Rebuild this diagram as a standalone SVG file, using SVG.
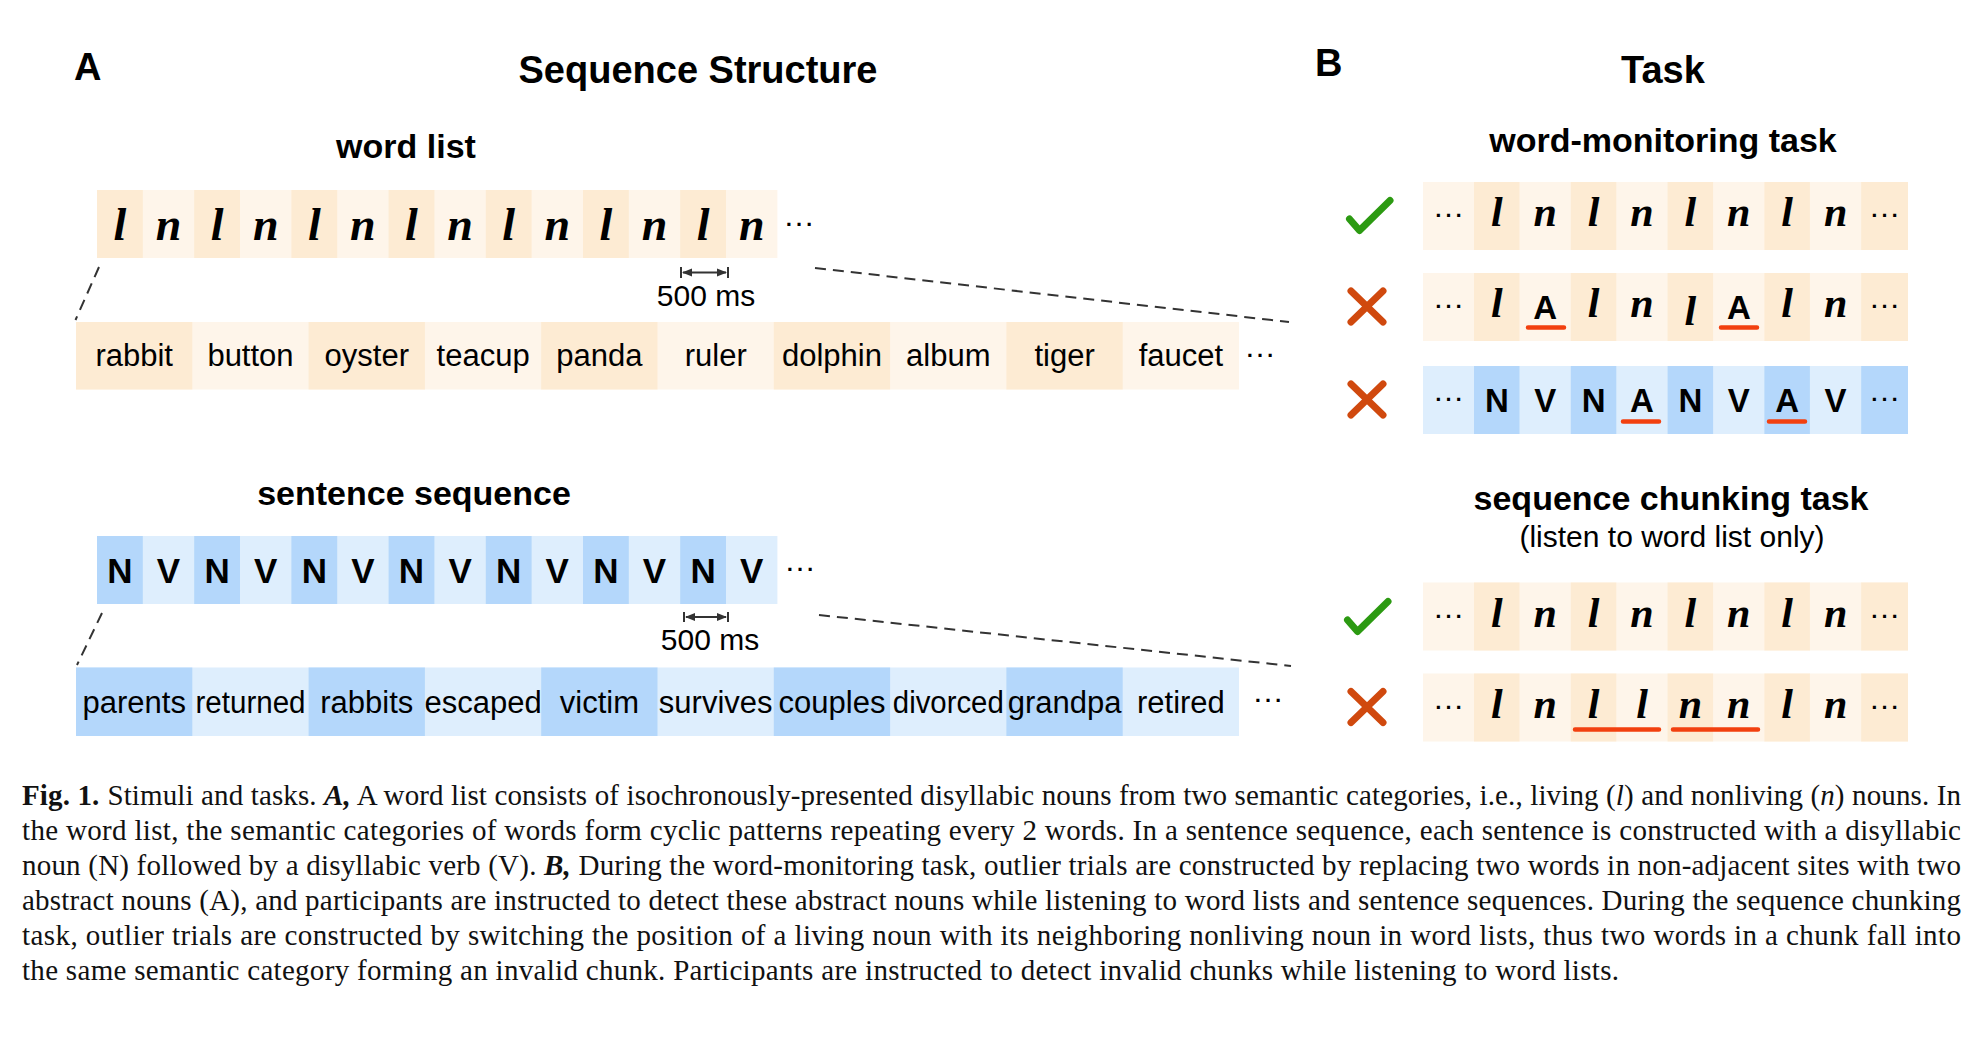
<svg xmlns="http://www.w3.org/2000/svg" width="1982" height="1041" viewBox="0 0 1982 1041">
<style>
.sans{font-family:"Liberation Sans",Arial,sans-serif;fill:#000}
.ttl{font-size:38px;font-weight:bold}
.sub{font-size:34px;font-weight:bold;text-anchor:middle}
.par{font-size:30px;text-anchor:middle}
.lt{font-family:"Liberation Serif","Times New Roman",serif;font-style:italic;font-weight:bold;font-size:46px;text-anchor:middle}
.lt2{font-family:"Liberation Serif","Times New Roman",serif;font-style:italic;font-weight:bold;font-size:42px;text-anchor:middle}
.nv{font-family:"Liberation Sans",Arial,sans-serif;font-weight:bold;font-size:35px;text-anchor:middle}
.nv2{font-family:"Liberation Sans",Arial,sans-serif;font-weight:bold;font-size:33px;text-anchor:middle}
.wd{font-family:"Liberation Sans",Arial,sans-serif;font-size:31px;text-anchor:middle}
.ms{font-family:"Liberation Sans",Arial,sans-serif;font-size:30px;text-anchor:middle}
.ell{font-family:"Liberation Sans",Arial,sans-serif;font-size:32px;text-anchor:middle}
.cap{font-family:"Liberation Serif","Times New Roman",serif;font-size:29px;fill:#111}
.od{fill:#FDEBD3}.ol{fill:#FEF5EA}.bd{fill:#B4D7FB}.bl{fill:#DEEEFD}
.dash{stroke:#333;stroke-width:2;stroke-dasharray:11 7;fill:none}
.brk{stroke:#333;stroke-width:2;fill:none}
.ul{stroke:#F2400F;stroke-width:4.5;stroke-linecap:round}
.chk{stroke:#2C9A12;stroke-width:7;fill:none;stroke-linecap:round;stroke-linejoin:round}
.crs{stroke:#D0490E;stroke-width:7;stroke-linecap:round}
</style>
<defs>
<marker id="ah" viewBox="0 0 10 10" refX="9" refY="5" markerWidth="5" markerHeight="5" orient="auto-start-reverse"><path d="M0,1 L10,5 L0,9 z" fill="#333"/></marker>
</defs>
<rect width="1982" height="1041" fill="#fff"/>

<!-- Headings -->
<g id="headings" class="sans">
<text class="ttl" x="74" y="80" font-size="36">A</text>
<text class="ttl" x="698" y="83" text-anchor="middle">Sequence Structure</text>
<text class="ttl" x="1315" y="76" font-size="35">B</text>
<text class="ttl" x="1663" y="83" text-anchor="middle">Task</text>
<text class="sub" x="406" y="158">word list</text>
<text class="sub" x="414" y="505">sentence sequence</text>
<text class="sub" x="1663" y="152">word-monitoring task</text>
<text class="sub" x="1671" y="510">sequence chunking task</text>
<text class="par" x="1672" y="547">(listen to word list only)</text>
</g>

<!-- Word list: category bar -->
<g id="wordlist-bar">
<rect class="ol" x="97" y="190" width="680.4" height="68"/>
<rect class="od" x="97" y="190" width="45.8" height="68"/>
<rect class="od" x="194.2" y="190" width="45.8" height="68"/>
<rect class="od" x="291.4" y="190" width="45.8" height="68"/>
<rect class="od" x="388.6" y="190" width="45.8" height="68"/>
<rect class="od" x="485.8" y="190" width="45.8" height="68"/>
<rect class="od" x="583" y="190" width="45.8" height="68"/>
<rect class="od" x="680.2" y="190" width="45.8" height="68"/>
<text class="lt" x="119.9" y="240">l</text><text class="lt" x="168.5" y="240">n</text>
<text class="lt" x="217.1" y="240">l</text><text class="lt" x="265.7" y="240">n</text>
<text class="lt" x="314.3" y="240">l</text><text class="lt" x="362.9" y="240">n</text>
<text class="lt" x="411.5" y="240">l</text><text class="lt" x="460.1" y="240">n</text>
<text class="lt" x="508.7" y="240">l</text><text class="lt" x="557.3" y="240">n</text>
<text class="lt" x="605.9" y="240">l</text><text class="lt" x="654.5" y="240">n</text>
<text class="lt" x="703.1" y="240">l</text><text class="lt" x="751.7" y="240">n</text>
<text class="ell" x="799" y="226">…</text>
</g>

<g id="wordlist-scale">
<path class="brk" d="M681,267 V278 M728,267 V278"/>
<path class="brk" d="M683,272.5 H726" marker-start="url(#ah)" marker-end="url(#ah)"/>
<text class="ms" x="706" y="306">500 ms</text>
</g>

<!-- Word list: words -->
<g id="wordlist-words">
<rect class="ol" x="76" y="322" width="1163" height="67.5"/>
<rect class="od" x="76" y="322" width="116.3" height="67.5"/>
<rect class="od" x="308.6" y="322" width="116.3" height="67.5"/>
<rect class="od" x="541.2" y="322" width="116.3" height="67.5"/>
<rect class="od" x="773.8" y="322" width="116.3" height="67.5"/>
<rect class="od" x="1006.4" y="322" width="116.3" height="67.5"/>
<text class="wd" x="134.2" y="366">rabbit</text>
<text class="wd" x="250.5" y="366">button</text>
<text class="wd" x="366.8" y="366">oyster</text>
<text class="wd" x="483.1" y="366">teacup</text>
<text class="wd" x="599.4" y="366">panda</text>
<text class="wd" x="715.7" y="366">ruler</text>
<text class="wd" x="832" y="366">dolphin</text>
<text class="wd" x="948.3" y="366">album</text>
<text class="wd" x="1064.6" y="366">tiger</text>
<text class="wd" x="1180.9" y="366">faucet</text>
<text class="ell" x="1260" y="357">…</text>
</g>

<!-- Sentence sequence: category bar -->
<g id="sentence-bar">
<rect class="bl" x="97" y="536" width="680.4" height="68"/>
<rect class="bd" x="97" y="536" width="45.8" height="68"/>
<rect class="bd" x="194.2" y="536" width="45.8" height="68"/>
<rect class="bd" x="291.4" y="536" width="45.8" height="68"/>
<rect class="bd" x="388.6" y="536" width="45.8" height="68"/>
<rect class="bd" x="485.8" y="536" width="45.8" height="68"/>
<rect class="bd" x="583" y="536" width="45.8" height="68"/>
<rect class="bd" x="680.2" y="536" width="45.8" height="68"/>
<text class="nv" x="119.9" y="583">N</text><text class="nv" x="168.5" y="583">V</text>
<text class="nv" x="217.1" y="583">N</text><text class="nv" x="265.7" y="583">V</text>
<text class="nv" x="314.3" y="583">N</text><text class="nv" x="362.9" y="583">V</text>
<text class="nv" x="411.5" y="583">N</text><text class="nv" x="460.1" y="583">V</text>
<text class="nv" x="508.7" y="583">N</text><text class="nv" x="557.3" y="583">V</text>
<text class="nv" x="605.9" y="583">N</text><text class="nv" x="654.5" y="583">V</text>
<text class="nv" x="703.1" y="583">N</text><text class="nv" x="751.7" y="583">V</text>
<text class="ell" x="800" y="571">…</text>
</g>

<g id="sentence-scale">
<path class="brk" d="M684,612 V622 M728,612 V622"/>
<path class="brk" d="M686,617 H726" marker-start="url(#ah)" marker-end="url(#ah)"/>
<text class="ms" x="710" y="650">500 ms</text>
</g>

<!-- Sentence sequence: words -->
<g id="sentence-words">
<rect class="bl" x="76" y="667.5" width="1163" height="68.5"/>
<rect class="bd" x="76" y="667.5" width="116.3" height="68.5"/>
<rect class="bd" x="308.6" y="667.5" width="116.3" height="68.5"/>
<rect class="bd" x="541.2" y="667.5" width="116.3" height="68.5"/>
<rect class="bd" x="773.8" y="667.5" width="116.3" height="68.5"/>
<rect class="bd" x="1006.4" y="667.5" width="116.3" height="68.5"/>
<text class="wd" x="134.2" y="713">parents</text>
<text class="wd" x="250.5" y="713" textLength="110" lengthAdjust="spacingAndGlyphs">returned</text>
<text class="wd" x="366.8" y="713">rabbits</text>
<text class="wd" x="483.1" y="713">escaped</text>
<text class="wd" x="599.4" y="713">victim</text>
<text class="wd" x="715.7" y="713">survives</text>
<text class="wd" x="832" y="713">couples</text>
<text class="wd" x="948.3" y="713" textLength="111" lengthAdjust="spacingAndGlyphs">divorced</text>
<text class="wd" x="1064.6" y="713">grandpa</text>
<text class="wd" x="1180.9" y="713">retired</text>
<text class="ell" x="1268" y="702">…</text>
</g>

<!-- Connectors (zoom lines) -->
<g id="connectors">
<path class="dash" d="M99,267 L75.5,320"/>
<path class="dash" d="M815,268 L1289,322"/>
<path class="dash" d="M102,613 L77,665"/>
<path class="dash" d="M819,615 L1291,666"/>
</g>

<!-- Panel B: word-monitoring task -->
<g id="wm-row1">
<rect class="ol" x="1423" y="182" width="485" height="68"/>
<rect class="od" x="1474" y="182" width="45.5" height="68"/>
<rect class="od" x="1570.8" y="182" width="45.5" height="68"/>
<rect class="od" x="1667.6" y="182" width="45.5" height="68"/>
<rect class="od" x="1764.4" y="182" width="45.5" height="68"/>
<rect class="od" x="1861.2" y="182" width="46.8" height="68"/>
<text class="ell" x="1448.5" y="217">…</text>
<text class="lt2" x="1496.8" y="226">l</text><text class="lt2" x="1545.2" y="226">n</text>
<text class="lt2" x="1593.6" y="226">l</text><text class="lt2" x="1642" y="226">n</text>
<text class="lt2" x="1690.4" y="226">l</text><text class="lt2" x="1738.8" y="226">n</text>
<text class="lt2" x="1787.2" y="226">l</text><text class="lt2" x="1835.6" y="226">n</text>
<text class="ell" x="1884.6" y="217">…</text>
<path class="chk" d="M1349.5,219 L1359.5,230.5 L1390,200.5"/>
</g>

<g id="wm-row2">
<rect class="ol" x="1423" y="273" width="485" height="68"/>
<rect class="od" x="1474" y="273" width="45.5" height="68"/>
<rect class="od" x="1570.8" y="273" width="45.5" height="68"/>
<rect class="od" x="1667.6" y="273" width="45.5" height="68"/>
<rect class="od" x="1764.4" y="273" width="45.5" height="68"/>
<rect class="od" x="1861.2" y="273" width="46.8" height="68"/>
<text class="ell" x="1448.5" y="308">…</text>
<text class="lt2" x="1496.8" y="317">l</text><text class="nv2" x="1545.2" y="318.5">A</text>
<text class="lt2" x="1593.6" y="317">l</text><text class="lt2" x="1642" y="317">n</text>
<text class="lt2" x="1690.4" y="325">l</text><text class="nv2" x="1738.8" y="318.5">A</text>
<text class="lt2" x="1787.2" y="317">l</text><text class="lt2" x="1835.6" y="317">n</text>
<text class="ell" x="1884.6" y="308">…</text>
<path class="ul" d="M1528,327.5 H1564 M1721,327.5 H1757"/>
<path class="crs" d="M1351,291 L1383,322 M1383,291 L1351,322"/>
</g>

<g id="wm-row3">
<rect class="bl" x="1423" y="366" width="485" height="68"/>
<rect class="bd" x="1474" y="366" width="45.5" height="68"/>
<rect class="bd" x="1570.8" y="366" width="45.5" height="68"/>
<rect class="bd" x="1667.6" y="366" width="45.5" height="68"/>
<rect class="bd" x="1764.4" y="366" width="45.5" height="68"/>
<rect class="bd" x="1861.2" y="366" width="46.8" height="68"/>
<text class="ell" x="1448.5" y="401">…</text>
<text class="nv2" x="1496.8" y="411.5">N</text><text class="nv2" x="1545.2" y="411.5">V</text>
<text class="nv2" x="1593.6" y="411.5">N</text><text class="nv2" x="1642" y="411.5">A</text>
<text class="nv2" x="1690.4" y="411.5">N</text><text class="nv2" x="1738.8" y="411.5">V</text>
<text class="nv2" x="1787.2" y="411.5">A</text><text class="nv2" x="1835.6" y="411.5">V</text>
<text class="ell" x="1884.6" y="401">…</text>
<path class="ul" d="M1623,421.5 H1659 M1769,421.5 H1805"/>
<path class="crs" d="M1351,384 L1383,415 M1383,384 L1351,415"/>
</g>

<!-- Panel B: sequence chunking task -->
<g id="sc-row1">
<rect class="ol" x="1423" y="582.5" width="485" height="68"/>
<rect class="od" x="1474" y="582.5" width="45.5" height="68"/>
<rect class="od" x="1570.8" y="582.5" width="45.5" height="68"/>
<rect class="od" x="1667.6" y="582.5" width="45.5" height="68"/>
<rect class="od" x="1764.4" y="582.5" width="45.5" height="68"/>
<rect class="od" x="1861.2" y="582.5" width="46.8" height="68"/>
<text class="ell" x="1448.5" y="617.5">…</text>
<text class="lt2" x="1496.8" y="626.5">l</text><text class="lt2" x="1545.2" y="626.5">n</text>
<text class="lt2" x="1593.6" y="626.5">l</text><text class="lt2" x="1642" y="626.5">n</text>
<text class="lt2" x="1690.4" y="626.5">l</text><text class="lt2" x="1738.8" y="626.5">n</text>
<text class="lt2" x="1787.2" y="626.5">l</text><text class="lt2" x="1835.6" y="626.5">n</text>
<text class="ell" x="1884.6" y="617.5">…</text>
<path class="chk" d="M1347.5,620 L1357.5,631.5 L1388,601.5"/>
</g>

<g id="sc-row2">
<rect class="ol" x="1423" y="673.5" width="485" height="68"/>
<rect class="od" x="1474" y="673.5" width="45.5" height="68"/>
<rect class="od" x="1570.8" y="673.5" width="45.5" height="68"/>
<rect class="od" x="1667.6" y="673.5" width="45.5" height="68"/>
<rect class="od" x="1764.4" y="673.5" width="45.5" height="68"/>
<rect class="od" x="1861.2" y="673.5" width="46.8" height="68"/>
<text class="ell" x="1448.5" y="708.5">…</text>
<text class="lt2" x="1496.8" y="717.5">l</text><text class="lt2" x="1545.2" y="717.5">n</text>
<text class="lt2" x="1593.6" y="717.5">l</text><text class="lt2" x="1642" y="717.5">l</text>
<text class="lt2" x="1690.4" y="717.5">n</text><text class="lt2" x="1738.8" y="717.5">n</text>
<text class="lt2" x="1787.2" y="717.5">l</text><text class="lt2" x="1835.6" y="717.5">n</text>
<text class="ell" x="1884.6" y="708.5">…</text>
<path class="ul" d="M1575,729.5 H1659 M1673,729.5 H1758"/>
<path class="crs" d="M1351,691.5 L1383,722.5 M1383,691.5 L1351,722.5"/>
</g>

<!-- Caption -->
<g id="caption" class="cap">
<text x="22" y="805" textLength="1939" lengthAdjust="spacing"><tspan font-weight="bold">Fig. 1.</tspan><tspan dx="8">Stimuli and tasks. </tspan><tspan font-weight="bold" font-style="italic">A,</tspan> A word list consists of isochronously-presented disyllabic nouns from two semantic categories, i.e., living (<tspan font-style="italic">l</tspan>) and nonliving (<tspan font-style="italic">n</tspan>) nouns. In</text>
<text x="22" y="840" textLength="1939" lengthAdjust="spacing">the word list, the semantic categories of words form cyclic patterns repeating every 2 words. In a sentence sequence, each sentence is constructed with a disyllabic</text>
<text x="22" y="875" textLength="1939" lengthAdjust="spacing">noun (N) followed by a disyllabic verb (V). <tspan font-weight="bold" font-style="italic">B,</tspan> During the word-monitoring task, outlier trials are constructed by replacing two words in non-adjacent sites with two</text>
<text x="22" y="910" textLength="1939" lengthAdjust="spacing">abstract nouns (A), and participants are instructed to detect these abstract nouns while listening to word lists and sentence sequences. During the sequence chunking</text>
<text x="22" y="945" textLength="1939" lengthAdjust="spacing">task, outlier trials are constructed by switching the position of a living noun with its neighboring nonliving noun in word lists, thus two words in a chunk fall into</text>
<text x="22" y="980" textLength="1597" lengthAdjust="spacing">the same semantic category forming an invalid chunk. Participants are instructed to detect invalid chunks while listening to word lists.</text>
</g>
</svg>
